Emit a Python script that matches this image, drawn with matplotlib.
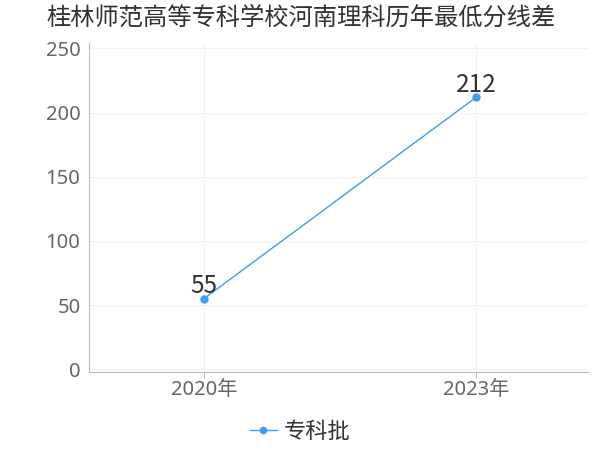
import matplotlib
matplotlib.use("Agg")
import matplotlib.pyplot as plt

plt.rcParams['font.family'] = ['Noto Sans', 'Noto Sans CJK SC', 'DejaVu Sans']

years = ["2020年", "2023年"]
scores = [55, 212]
series_name = "专科批"
title = "桂林师范高等专科学校河南理科历年最低分线差"

line_color = "#3d9df5"

fig = plt.figure(figsize=(6, 4.5), dpi=100)
ax = fig.add_axes([0.148, 0.173, 0.832, 0.731])

x = list(range(len(years)))
ax.plot(x, scores, color=line_color, linewidth=1, marker="o", markersize=5,
        label=series_name, zorder=3)
for xi, v in zip(x, scores):
    ax.annotate(str(v), (xi, v), xytext=(0, -0.5), textcoords="offset points",
                ha="center", va="bottom", fontsize=17.5, color="#333333",
                family=['Noto Sans CJK SC', 'DejaVu Sans'])

ax.set_xlim(-0.423, 1.41)
ax.set_ylim(-2.3, 254)
ax.set_yticks([0, 50, 100, 150, 200, 250])
ax.set_xticks(x)
ax.set_xticklabels(years)
ax.tick_params(axis="both", labelsize=14.5, colors="#666666", length=4, width=0.8)
ax.tick_params(axis="y", length=0, pad=6)
ax.tick_params(axis="x", color="#bbbbbb", pad=2)
ax.grid(True, color="#f2f2f2", linewidth=0.8)
ax.set_axisbelow(True)

for side in ["top", "right"]:
    ax.spines[side].set_visible(False)
ax.spines["left"].set_color("#bbbbbb")
ax.spines["bottom"].set_color("#bbbbbb")

fig.text(0.078, 0.958, title, fontsize=17.5, color="#333333", ha="left", va="center")

leg = fig.legend(loc="center", bbox_to_anchor=(0.5, 0.04), frameon=False,
                 fontsize=16, handlelength=1.2, handletextpad=0.3, markerscale=0.9)
for t in leg.get_texts():
    t.set_color("#333333")

fig.savefig("out.png", dpi=100)
